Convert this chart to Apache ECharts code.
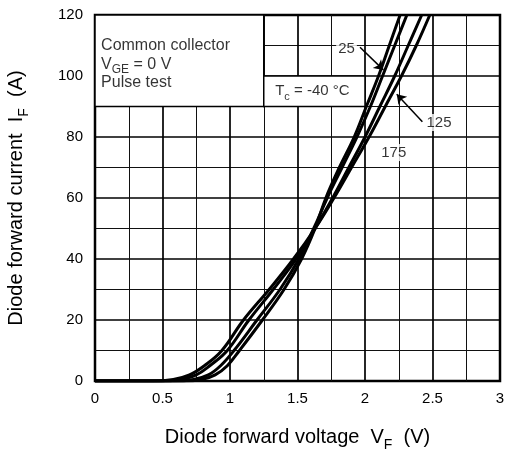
<!DOCTYPE html>
<html>
<head>
<meta charset="utf-8">
<script src="https://cdn.jsdelivr.net/npm/echarts@6/dist/echarts.min.js"></script>
<style>
  html, body { margin: 0; padding: 0; background: #fff; }
  #chart { width: 505px; height: 450px; }
</style>
</head>
<body>
<div id="chart"></div>
<script>
const FONT = '"Liberation Sans", Arial, Helvetica, sans-serif';

// Forward current (A) at which each forward voltage below is listed
const currentA = [0, 0, 0.5, 2, 5, 10, 20, 30, 40, 50, 60, 70, 80, 90, 100, 110, 120];

// Forward voltage (V) per case temperature
const vf175 = [0, 0.42, 0.58, 0.70, 0.81, 0.94, 1.10, 1.29, 1.47, 1.63, 1.77, 1.90, 2.03, 2.15, 2.27, 2.38, 2.48];
const vf125 = [0, 0.48, 0.63, 0.75, 0.85, 0.98, 1.14, 1.32, 1.49, 1.63, 1.76, 1.88, 2.00, 2.11, 2.22, 2.32, 2.42];
const vf25  = [0, 0.58, 0.73, 0.84, 0.93, 1.03, 1.20, 1.37, 1.51, 1.62, 1.72, 1.83, 1.94, 2.04, 2.13, 2.22, 2.31];
const vfM40 = [0, 0.65, 0.79, 0.89, 0.98, 1.07, 1.24, 1.40, 1.53, 1.63, 1.71, 1.81, 1.92, 2.01, 2.10, 2.18, 2.26];

const curves = [
  { name: '175', vf: vf175 },
  { name: '125', vf: vf125 },
  { name: '25',  vf: vf25 },
  { name: '-40', vf: vfM40 }
];

// Condition boxes (corners in V / A)
const boxes = [
  [[0, 90], [1.25, 120]],
  [[1.25, 90], [2.0, 100]]
];

// Condition text lines (left-aligned) and their anchor points
const condLines = ['Common collector', '{v|V}{s|GE}{v| = 0 V}', 'Pulse test'];
const condPos = [[0.045, 110.0], [0.045, 103.6], [0.045, 98.0]];

// Temperature labels (centered) and their anchor points
const tempText = ['{t|T}{c|c}{t| = -40 °C}', '25', '125', '175'];
const tempPos = [[1.61, 95.0], [1.863, 108.9], [2.548, 84.75], [2.213, 74.9]];

// Leader arrows: from label to curve
const arrows = [
  [[1.963, 109.4], [2.136, 102.0]],
  [[2.425, 85.0], [2.235, 94.0]]
];

const pairs = v => v.map((x, i) => [x, currentA[i]]);

const condRich = {
  v: { fontFamily: FONT, fontSize: 16, color: '#000' },
  s: { fontFamily: FONT, fontSize: 12, color: '#000', verticalAlign: 'bottom', lineHeight: 22 }
};
const tempRich = {
  t: { fontFamily: FONT, fontSize: 15, color: '#000' },
  c: { fontFamily: FONT, fontSize: 11, color: '#000', verticalAlign: 'bottom', lineHeight: 22 }
};

const chart = echarts.init(document.getElementById('chart'), null, { renderer: 'canvas' });

const series = curves.map(c => ({
  type: 'line',
  name: c.name,
  data: pairs(c.vf),
  smooth: 0.4,
  symbol: 'none',
  lineStyle: { color: '#000', width: 3 },
  z: 5,
  silent: true
}));

// White boxes behind the condition text
series.push({
  type: 'line',
  data: [[0, 0]],
  symbol: 'none',
  lineStyle: { width: 0 },
  z: 2,
  silent: true,
  markArea: {
    silent: true,
    itemStyle: { color: '#fff', borderColor: '#000', borderWidth: 1.5 },
    data: boxes.map(b => [{ coord: b[0] }, { coord: b[1] }])
  }
});

// Arrows
series.push({
  type: 'lines',
  coordinateSystem: 'cartesian2d',
  z: 6,
  silent: true,
  symbol: ['none', 'arrow'],
  symbolSize: 9,
  lineStyle: { color: '#000', width: 1.5, opacity: 1 },
  data: arrows.map(a => ({ coords: a }))
});

// Condition text
series.push({
  type: 'scatter',
  symbolSize: 0,
  z: 7,
  silent: true,
  data: condLines.map((t, i) => ({
    value: condPos[i],
    label: {
      show: true, position: 'right', distance: 0, formatter: t,
      fontFamily: FONT, fontSize: 16, color: '#000',
      rich: condRich
    }
  }))
});

// Temperature labels
series.push({
  type: 'scatter',
  symbolSize: 0,
  z: 7,
  silent: true,
  data: tempText.map((t, i) => ({
    value: tempPos[i],
    label: {
      show: true, position: 'inside', formatter: t,
      fontFamily: FONT, fontSize: 15, color: '#000',
      backgroundColor: i === 0 ? 'transparent' : '#fff',
      padding: [1, 2],
      rich: tempRich
    }
  }))
});

const nameRich = {
  n: { fontFamily: FONT, fontSize: 20, color: '#000' },
  s: { fontFamily: FONT, fontSize: 14, color: '#000', verticalAlign: 'bottom', lineHeight: 30 }
};

chart.setOption({
  animation: false,
  backgroundColor: '#fff',
  grid: {
    left: 95, right: 5, top: 15, bottom: 69,
    outerBoundsMode: 'none',
    containLabel: false,
    show: true, borderColor: '#000', borderWidth: 2.5, backgroundColor: 'transparent'
  },
  xAxis: {
    type: 'value', min: 0, max: 3, interval: 0.5,
    axisLine: { show: false },
    axisTick: { show: false },
    axisLabel: { margin: 10, fontFamily: FONT, fontSize: 15, color: '#000' },
    splitLine: { show: true, lineStyle: { color: '#000', width: 1.7 } },
    minorTick: { show: false, splitNumber: 2 },
    minorSplitLine: { show: true, lineStyle: { color: '#111', width: 1 } },
    name: '{n|Diode forward voltage  V}{s|F}{n|  (V)}',
    nameLocation: 'middle', nameGap: 41,
    nameTextStyle: { rich: nameRich }
  },
  yAxis: {
    type: 'value', min: 0, max: 120, interval: 20,
    axisLine: { show: false },
    axisTick: { show: false },
    axisLabel: { margin: 12, fontFamily: FONT, fontSize: 15, color: '#000' },
    splitLine: { show: true, lineStyle: { color: '#000', width: 1.7 } },
    minorTick: { show: false, splitNumber: 2 },
    minorSplitLine: { show: true, lineStyle: { color: '#111', width: 1 } },
    name: '{n|Diode forward current  I}{s|F}{n|  (A)}',
    nameLocation: 'middle', nameGap: 64,
    nameTextStyle: { rich: nameRich }
  },
  series: series
});
</script>
</body>
</html>
